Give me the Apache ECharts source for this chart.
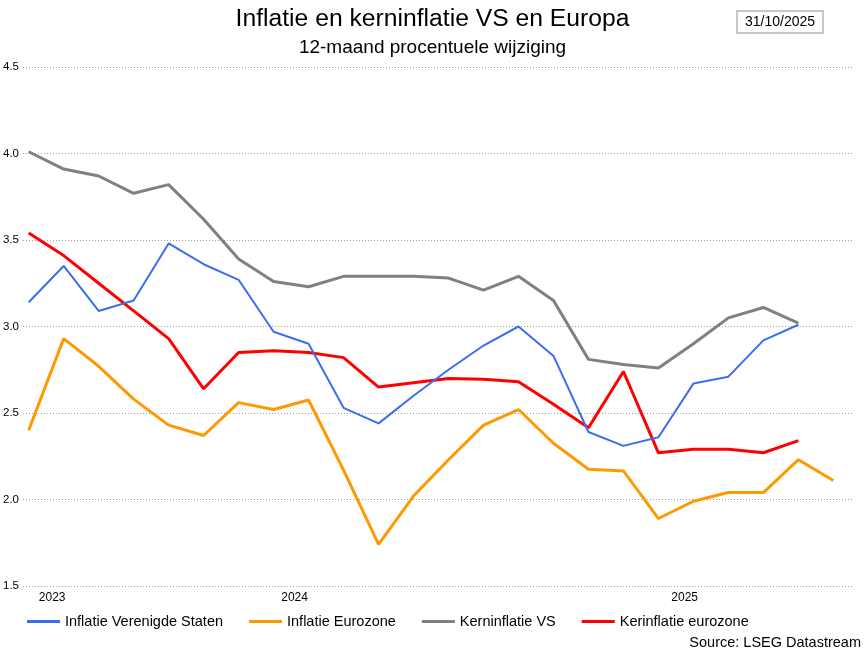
<!DOCTYPE html>
<html>
<head>
<meta charset="utf-8">
<script src="https://cdn.jsdelivr.net/npm/echarts@6/dist/echarts.min.js"></script>
<style>html,body{margin:0;padding:0;background:#fff;}#c{width:865px;height:652px;}</style>
</head>
<body>
<div id="c"></div>
<script>
// Monthly observations, Nov 2023 .. Oct 2025
const months = ['2023-11','2023-12','2024-01','2024-02','2024-03','2024-04','2024-05','2024-06','2024-07','2024-08','2024-09','2024-10','2024-11','2024-12','2025-01','2025-02','2025-03','2025-04','2025-05','2025-06','2025-07','2025-08','2025-09','2025-10'];
const inflatieVS = [3.14,3.35,3.09,3.15,3.48,3.36,3.27,2.97,2.90,2.53,2.44,2.60,2.75,2.89,3.00,2.83,2.39,2.31,2.36,2.67,2.71,2.92,3.01];
const inflatieEZ = [2.40,2.93,2.77,2.58,2.43,2.37,2.56,2.52,2.575,2.17,1.74,2.02,2.23,2.43,2.52,2.325,2.175,2.165,1.89,1.99,2.04,2.04,2.23,2.11];
const kernVS = [4.01,3.91,3.87,3.77,3.82,3.62,3.39,3.26,3.23,3.29,3.29,3.29,3.28,3.21,3.29,3.15,2.81,2.78,2.76,2.90,3.05,3.11,3.02];
const kernEZ = [3.54,3.41,3.25,3.09,2.93,2.64,2.85,2.86,2.85,2.82,2.65,2.675,2.70,2.695,2.68,2.55,2.415,2.74,2.27,2.29,2.29,2.27,2.34];
const yearLabels = ['2023','2024','2025'];
const seriesNames = ['Inflatie Verenigde Staten','Inflatie Eurozone','Kerninflatie VS','Kerinflatie eurozone'];

// label anchor positions along the month index axis (layout)
const yearLabelAt = [0.67, 7.6, 18.75];

const toPairs = arr => arr.map((v, i) => [i, v]);
const FONT = '"Liberation Sans", Arial, sans-serif';

const chart = echarts.init(document.getElementById('c'), null, {renderer: 'canvas'});
chart.setOption({
  animation: false,
  backgroundColor: '#fff',
  title: [
    {text: 'Inflatie en kerninflatie VS en Europa', left: 'center', top: 2,
     textStyle: {fontFamily: FONT, fontSize: 24.7, fontWeight: 'normal', color: '#000'}},
    {text: '12-maand procentuele wijziging', left: 'center', top: 33,
     textStyle: {fontFamily: FONT, fontSize: 19, fontWeight: 'normal', color: '#000'}},
    {text: '31/10/2025', left: 737, top: 11, padding: [4, 8, 4, 8],
     borderColor: '#c8c8c8', borderWidth: 2,
     textStyle: {fontFamily: FONT, fontSize: 14, fontWeight: 'normal', color: '#000'}},
    {text: 'Source: LSEG Datastream', right: 4, top: 635, padding: 0,
     textStyle: {fontFamily: FONT, fontSize: 14.5, fontWeight: 'normal', color: '#000'}}
  ],
  legend: {
    left: 27, top: 614, padding: 0, itemWidth: 33, itemHeight: 3, itemGap: 26, icon: 'rect',
    textStyle: {fontFamily: FONT, fontSize: 14.5, color: '#000'},
    data: seriesNames
  },
  grid: {left: 21, right: 11, top: 67, bottom: 66, containLabel: false},
  xAxis: {
    type: 'value', min: -0.163, max: 23.59,
    splitLine: {show: false}, axisLine: {show: false}, axisTick: {show: false},
    axisLabel: {
      customValues: yearLabelAt,
      formatter: v => { const i = yearLabelAt.findIndex(p => Math.abs(p - v) < 1e-6); return i >= 0 ? yearLabels[i] : ''; },
      fontFamily: FONT, fontSize: 12, color: '#000', margin: 6
    }
  },
  yAxis: {
    type: 'value', min: 1.5, max: 4.5, interval: 0.5,
    axisLine: {show: false}, axisTick: {show: false},
    axisLabel: {formatter: v => v.toFixed(1), fontFamily: FONT, fontSize: 11.5, color: '#000', margin: 4},
    splitLine: {show: true, lineStyle: {color: '#a0a0a0', type: [1, 2], width: 1}}
  },
  series: [
    {name: seriesNames[0], type: 'line', data: toPairs(inflatieVS), symbol: 'none',
     lineStyle: {color: '#3a6df0', width: 2}, itemStyle: {color: '#3a6df0'}, z: 3},
    {name: seriesNames[1], type: 'line', data: toPairs(inflatieEZ), symbol: 'none',
     lineStyle: {color: '#ff9900', width: 3}, itemStyle: {color: '#ff9900'}, z: 2},
    {name: seriesNames[2], type: 'line', data: toPairs(kernVS), symbol: 'none',
     lineStyle: {color: '#808080', width: 3}, itemStyle: {color: '#808080'}, z: 2},
    {name: seriesNames[3], type: 'line', data: toPairs(kernEZ), symbol: 'none',
     lineStyle: {color: '#ff0000', width: 3}, itemStyle: {color: '#ff0000'}, z: 2}
  ]
});
</script>
</body>
</html>
